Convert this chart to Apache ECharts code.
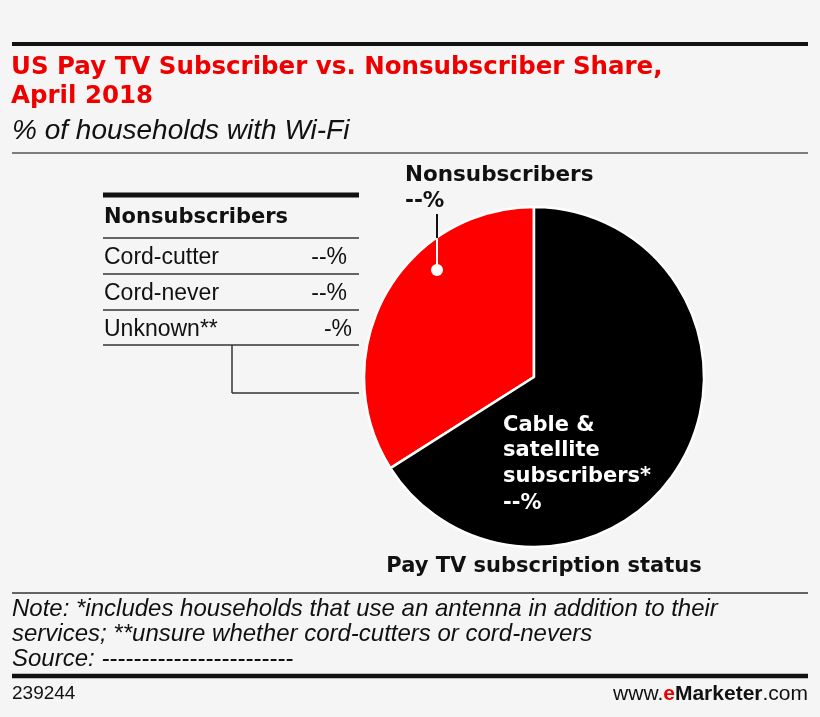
<!DOCTYPE html>
<html>
<head>
<meta charset="utf-8">
<script src="https://cdn.jsdelivr.net/npm/echarts@6/dist/echarts.min.js"></script>
<style>
html,body{margin:0;padding:0;background:#f5f5f5;}
#c{width:820px;height:717px;}
</style>
</head>
<body>
<div id="c"></div>
<script>
const categories = ['Nonsubscribers', 'Cable & satellite subscribers*'];
const shares = [34, 66];
const sliceLabels = ['--%', '--%'];
const tableRows = ['Cord-cutter', 'Cord-never', 'Unknown**'];
const tableValues = ['--%', '--%', '-%'];
const colors = ['#ff0000', '#000000'];

const chart = echarts.init(document.getElementById('c'), null, {renderer: 'canvas'});
const F = '"Liberation Sans", Arial, sans-serif';
const FB = '"DejaVu Sans", "Liberation Sans", sans-serif';

const g = [];
function line(x1, y1, x2, y2, w, col) {
  g.push({type: 'line', shape: {x1, y1, x2, y2}, style: {stroke: col || '#222', lineWidth: w}, silent: true});
}
function text(x, y, t, o) {
  g.push({type: 'text', x, y, style: Object.assign({text: t, fill: '#111', font: '20px ' + F, textVerticalAlign: 'middle'}, o || {}), silent: true});
}
// header
line(12, 44, 808, 44, 4, '#111');
text(11, 68, 'US Pay TV Subscriber vs. Nonsubscriber Share,', {fill: '#ee0000', font: 'bold 24.5px ' + FB});
text(11, 97, 'April 2018', {fill: '#ee0000', font: 'bold 24.5px ' + FB});
text(12, 131, '% of households with Wi-Fi', {font: 'italic 28px ' + F, fill: '#111'});
line(12, 153, 808, 153, 1.5, '#555');

// table
line(103, 195, 359, 195, 5, '#111');
text(104, 218, categories[0], {font: 'bold 21px ' + FB});
line(103, 238, 359, 238, 1.5, '#333');
const rowY = [258, 294, 330];
const sepY = [274, 310, 345];
tableRows.forEach((r, i) => {
  text(104, rowY[i], r, {font: '23px ' + F});
  text(i === 2 ? 352 : 347, rowY[i], tableValues[i], {font: '23px ' + F, textAlign: 'right'});
  line(103, sepY[i], 359, sepY[i], 1.5, '#333');
});
line(232, 345, 232, 393, 1.5, '#333');
line(232, 393, 359, 393, 1.5, '#333');

// Nonsubscribers callout
text(405, 175, categories[0], {font: 'bold 21.5px ' + FB});
text(405, 201, sliceLabels[0], {font: 'bold 21.5px ' + FB});
line(437, 214, 437, 238, 2, '#111');
line(437, 238, 437, 270, 2, '#fff');
g.push({type: 'circle', shape: {cx: 437, cy: 270, r: 6}, style: {fill: '#fff'}, silent: true, z: 10});

// Cable label
text(503, 426, 'Cable &', {font: 'bold 21px ' + FB, fill: '#fff'});
text(503, 451, 'satellite', {font: 'bold 21px ' + FB, fill: '#fff'});
text(503, 477, 'subscribers*', {font: 'bold 21px ' + FB, fill: '#fff'});
text(503, 504, sliceLabels[1], {font: 'bold 21px ' + FB, fill: '#fff'});

text(544, 567, 'Pay TV subscription status', {font: 'bold 21px ' + FB, textAlign: 'center'});

// footer
line(12, 593, 808, 593, 1.5, '#333');
text(12, 609, 'Note: *includes households that use an antenna in addition to their', {font: 'italic 24px ' + F});
text(12, 634, 'services; **unsure whether cord-cutters or cord-nevers', {font: 'italic 24px ' + F});
text(12, 659, 'Source: ------------------------', {font: 'italic 24px ' + F});
line(12, 676, 808, 676, 4.5, '#111');
text(12, 694, '239244', {font: '19px ' + F});
g.push({type: 'text', x: 808, y: 694, style: {
  text: '{a|www.}{b|e}{c|Marketer}{a|.com}', textAlign: 'right', textVerticalAlign: 'middle',
  rich: {
    a: {font: '21px ' + F, fill: '#111'},
    b: {font: 'bold 21px ' + F, fill: '#ee0000'},
    c: {font: 'bold 21px ' + F, fill: '#111'}
  }
}, silent: true});

chart.setOption({
  backgroundColor: '#f5f5f5',
  animation: false,
  series: [{
    type: 'pie',
    center: [534, 377],
    radius: [0, 170],
    startAngle: 90,
    clockwise: false,
    label: {show: false},
    labelLine: {show: false},
    itemStyle: {borderColor: '#fff', borderWidth: 2.5},
    data: categories.map((c, i) => ({name: c, value: shares[i], itemStyle: {color: colors[i]}}))
  }],
  graphic: g.map(e => Object.assign({z: 100}, e))
});
</script>
</body>
</html>
